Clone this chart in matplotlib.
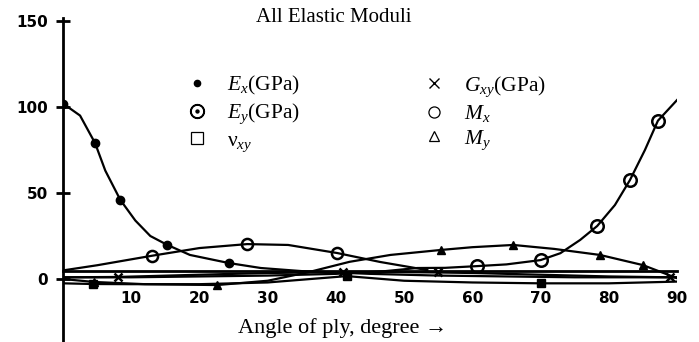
import matplotlib
matplotlib.use('Agg')
import matplotlib.pyplot as plt
from matplotlib.lines import Line2D

plt.rcParams['font.family'] = ['Liberation Serif', 'DejaVu Serif']
plt.rcParams['mathtext.fontset'] = 'custom'
plt.rcParams['mathtext.rm'] = 'Liberation Serif'
plt.rcParams['mathtext.it'] = 'Liberation Serif:italic'

# curves (angle in degrees, value)
ex_ang = [0, 2.5, 4.7, 6.2, 8.4, 10.6, 12.8, 15.2, 18.6, 24.3, 29, 35, 45, 55, 65, 75, 90]
ex_val = [102, 95, 79, 63, 46, 34, 25, 20, 14, 9.3, 6.4, 4.6, 3, 2, 1.5, 1, 1]

ey_ang = [0, 10, 20, 30, 40, 47, 51.9, 56, 60.7, 65, 70, 72.9, 75.8, 78.3, 80.9, 83.1, 85.3, 87.2, 90]
ey_val = [1, 1, 1.5, 2, 3, 4.5, 6.4, 6.5, 7.5, 8.5, 11, 15, 22.7, 30.8, 43, 57.5, 75, 92, 104]

mx_ang = [0, 5, 13, 20, 27, 33, 40.2, 46.5, 53.4]
mx_val = [5, 8, 13.5, 18, 20.3, 19.8, 15.1, 9.9, 5.2]

my_ang = [0, 4.5, 12, 22.6, 30, 36, 42, 48, 55.4, 60, 66, 72, 78.7, 85, 90]
my_val = [0, -1.7, -3, -3.5, -1, 4, 10, 14, 16.9, 18.5, 19.8, 17.5, 14, 8.1, 0.5]

gxy_ang = [0, 8, 20, 30, 41, 50, 55, 60, 70, 80, 89, 90]
gxy_val = [1, 1.2, 2.5, 3.5, 4, 4, 3.8, 3.5, 2.5, 1.5, 1, 1]

nu_ang = [0, 4.4, 10, 20, 30, 41.6, 50, 60, 70, 80, 90]
nu_val = [-2.5, -2.9, -3, -3, -2, 1.7, -1, -2, -2.5, -2.5, -1.5]

fig = plt.figure(figsize=(6.99, 3.42), dpi=100)
ax = fig.add_axes([63 / 699, 0, 614 / 699, 324 / 342])

lw = 1.6
ax.plot(ex_ang, ex_val, 'k-', lw=lw, marker='o', ms=6, markevery=[0, 2, 4, 7, 9])
ax.plot(ey_ang, ey_val, 'k-', lw=lw, marker='o', ms=9, mfc='none', mew=1.8,
        markevery=[8, 10, 13, 15, 17])
ax.plot(mx_ang, mx_val, 'k-', lw=lw, marker='o', ms=8, mfc='none', mew=1.8,
        markevery=[2, 4, 6])
ax.plot(my_ang, my_val, 'k-', lw=lw, marker='^', ms=6, markevery=[1, 3, 8, 10, 12, 13])
ax.plot(gxy_ang, gxy_val, 'k-', lw=lw, marker='x', ms=6, mew=1.8, markevery=[1, 4, 6, 10])
ax.plot(nu_ang, nu_val, 'k-', lw=lw, marker='s', ms=6, markevery=[1, 5, 8])

ax.set_xlim(0, 90)
ax.set_ylim(-36.6, 151.7)
ax.spines['top'].set_visible(False)
ax.spines['right'].set_visible(False)
ax.spines['left'].set_linewidth(2)
ax.spines['bottom'].set_position(('data', 4.5))
ax.spines['bottom'].set_linewidth(2)

ax.set_yticks([0, 50, 100, 150])
ax.tick_params(axis='y', direction='inout', length=10, width=2, pad=6)
ax.set_xticks(range(10, 100, 10))
ax.tick_params(axis='x', length=0, pad=14)
for lab in ax.get_xticklabels() + ax.get_yticklabels():
    lab.set_family('DejaVu Sans')
    lab.set_fontweight('bold')
    lab.set_fontsize(11)

fig.text(334 / 699, 1 - 17 / 342, 'All Elastic Moduli', ha='center', va='center', fontsize=15)
fig.text(343 / 699, 1 - 328 / 342, 'Angle of ply, degree \u2192', ha='center', va='center',
         fontsize=16)

handles = [
    Line2D([], [], ls='none', marker='o', ms=4.5, color='k'),
    Line2D([], [], ls='none', marker=r'$\odot$', ms=10, color='k'),
    Line2D([], [], ls='none', marker='s', ms=9, mfc='none', mec='k', mew=0.9),
    Line2D([], [], ls='none', marker='x', ms=6.5, color='k', mew=1.0),
    Line2D([], [], ls='none', marker='o', ms=8, mfc='none', mec='k', mew=0.9),
    Line2D([], [], ls='none', marker='^', ms=6.5, mfc='none', mec='k', mew=0.9),
]
labels = ['$E_x$(GPa)', '$E_y$(GPa)', '\u03bd$_{xy}$',
          '$G_{xy}$(GPa)', '$M_x$', '$M_y$']
fig.legend(handles, labels, ncol=2, frameon=False, loc='upper left',
           bbox_to_anchor=(167 / 699, 1 - 55 / 342), fontsize=15.5,
           handlelength=1, handletextpad=0.9, columnspacing=5.7, labelspacing=0.2)

fig.savefig('out.png', dpi=100)
